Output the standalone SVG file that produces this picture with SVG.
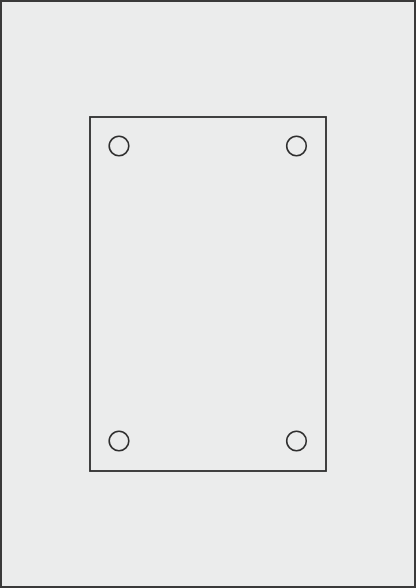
<svg xmlns="http://www.w3.org/2000/svg" width="416" height="588" viewBox="0 0 416 588">
<style>
.ln{fill:none;stroke:#2e2e2e;stroke-width:1.8}
.hole{fill:none;stroke:#2e2e2e;stroke-width:1.6}
</style>
<rect x="0" y="0" width="416" height="588" fill="#ffffff"/>
<g id="sheet"><rect x="1" y="1" width="414" height="586" fill="#ebecec" stroke="#3a3a3a" stroke-width="2"/></g>
<g id="plate">
<rect class="ln" x="90" y="117" width="236" height="354"/>
<circle class="hole" cx="119" cy="146" r="9.8"/>
<circle class="hole" cx="296.5" cy="146" r="9.8"/>
<circle class="hole" cx="119" cy="441" r="9.8"/>
<circle class="hole" cx="296.5" cy="441" r="9.8"/>
</g>
</svg>
